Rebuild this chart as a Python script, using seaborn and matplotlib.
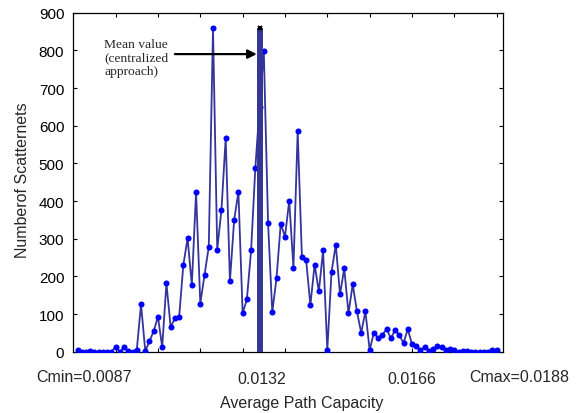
import numpy as np
import pandas as pd
import matplotlib
matplotlib.use("Agg")
import matplotlib.pyplot as plt
import seaborn as sns

# ---- data ----
bins = list(range(1, 101))
counts = [5, 0, 0, 2, 0, 0, 0, 0, 0, 13,
          0, 12, 2, 0, 5, 126, 2, 28, 55, 93,
          12, 182, 65, 89, 92, 231, 301, 177, 424, 128,
          204, 278, 858, 271, 377, 567, 187, 350, 424, 102,
          139, 269, 488, 650, 798, 343, 105, 195, 340, 305,
          401, 223, 585, 252, 243, 124, 231, 160, 269, 5,
          212, 284, 152, 221, 102, 179, 107, 50, 107, 4,
          51, 36, 45, 60, 36, 57, 44, 23, 60, 20,
          15, 5, 12, 1, 7, 16, 12, 4, 6, 4,
          0, 3, 1, 0, 0, 0, 0, 0, 5, 4]
mean_bin = 44.05
mean_height = 858
cap_labels = ["Cmin=0.0087", "0.0132", "0.0166", "Cmax=0.0188"]
cap_label_pos = [2.5, 44.6, 80.0, 105.4]
cap_label_y = [-0.072, -0.080, -0.080, -0.072]
yticks = list(range(0, 1000, 100))
xticks = list(range(10, 101, 10))

df = pd.DataFrame({"bin": bins, "count": counts})

sns.set_style("white")
plt.rcParams["font.family"] = ["Liberation Sans", "DejaVu Sans"]

fig = plt.figure(figsize=(5.83, 4.14), dpi=100)
ax = fig.add_axes([0.1257, 0.148, 0.8628 - 0.1257, 0.967 - 0.148])

line_col = "#34349c"
sns.lineplot(data=df, x="bin", y="count", ax=ax, color=line_col, lw=1.3, zorder=2)
sns.scatterplot(data=df, x="bin", y="count", ax=ax, color="#0000ff", s=19,
                edgecolor="#0000ff", linewidth=0, zorder=3)

# mean value bar
ax.plot([mean_bin, mean_bin], [0, mean_height], color="#353595", lw=4.3,
        solid_capstyle="butt", zorder=4)
ax.plot([mean_bin], [mean_height], marker="x", color="black", ms=3.5, mew=1.5, zorder=5)

ax.annotate("", xy=(mean_bin - 0.7, 790), xytext=(24.0, 790),
            arrowprops=dict(arrowstyle="-|>", color="black", lw=1.6,
                            mutation_scale=13, shrinkA=0, shrinkB=0), zorder=6)
ax.text(7.3, 833, "Mean value\n(centralized\napproach)", ha="left", va="top",
        family=["Liberation Serif", "DejaVu Serif"], fontsize=9.7, linespacing=1.15)

ax.set_xlim(0, 101.5)
ax.set_ylim(0, 900)
ax.set_yticks(yticks)
ax.set_xticks(xticks)
ax.set_xticklabels([])
ax.tick_params(axis="both", which="both", direction="in", length=3, width=0.8,
               top=True, right=True, bottom=True, left=True, labelsize=11, pad=6.5,
               colors="black")
for s in ax.spines.values():
    s.set_visible(True)
    s.set_color("black")
    s.set_linewidth(0.9)

for lab, xp, yp in zip(cap_labels, cap_label_pos, cap_label_y):
    ax.text(xp, yp, lab, transform=ax.get_xaxis_transform(), ha="center", va="center",
            fontsize=11.5)

ax.set_xlabel("Average Path Capacity", fontsize=11.5)
ax.xaxis.set_label_coords(0.532, -0.128)
ax.set_ylabel("Numberof Scatternets", fontsize=11.5)
ax.yaxis.set_label_coords(-0.10, 0.51)

fig.savefig("out.png", dpi=100)
